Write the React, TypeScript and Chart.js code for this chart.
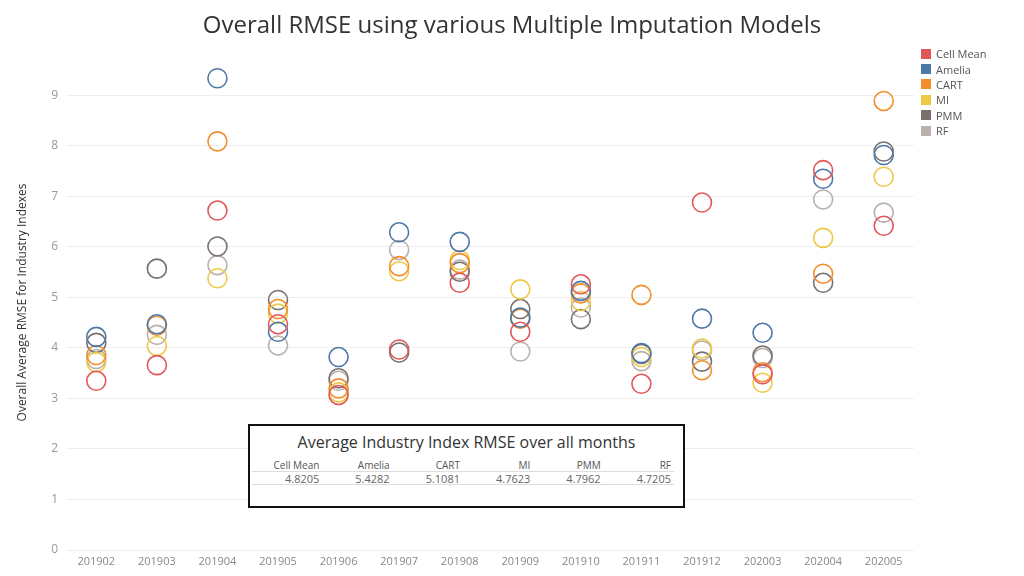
import React, { useEffect, useRef } from "react";
import { Chart, registerables } from "chart.js";

Chart.register(...registerables);

const months = ["201902", "201903", "201904", "201905", "201906", "201907", "201908", "201909", "201910", "201911", "201912", "202003", "202004", "202005"];

const cellMean = [3.35, 3.66, 6.72, 4.47, 3.07, 3.97, 5.29, 4.32, 5.26, 3.29, 6.88, 3.48, 7.52, 6.42];
const amelia = [4.22, 4.47, 9.34, 4.32, 3.82, 6.29, 6.10, 4.60, 5.13, 3.90, 4.58, 4.30, 7.35, 7.82];
const cart = [3.86, 4.44, 8.09, 4.77, 3.20, 5.62, 5.68, 4.58, 5.08, 5.05, 3.56, 3.52, 5.47, 8.89];
const mi = [3.72, 4.04, 5.38, 4.68, 3.12, 5.52, 5.74, 5.16, 4.93, 3.82, 3.99, 3.31, 6.18, 7.39];
const pmm = [4.10, 5.57, 6.01, 4.95, 3.40, 3.91, 5.51, 4.77, 4.57, 3.88, 3.73, 3.85, 5.29, 7.89];
const rf = [3.78, 4.26, 5.64, 4.05, 3.35, 5.94, 5.55, 3.93, 4.80, 3.74, 3.95, 3.80, 6.94, 6.68];

const seriesNames = ["Cell Mean", "Amelia", "CART", "MI", "PMM", "RF"];
const seriesColors = ["#e15759", "#4e79a7", "#f28e2b", "#edc948", "#79706e", "#bab0ac"];
const seriesData = [cellMean, amelia, cart, mi, pmm, rf];

const yTicks = [0, 1, 2, 3, 4, 5, 6, 7, 8, 9];

const chartTitle = "Overall RMSE using various Multiple Imputation Models";
const tableTitle = "Average Industry Index RMSE over all months";
const tableHeaders = ["Cell Mean", "Amelia", "CART", "MI", "PMM", "RF"];
const tableValues = ["4.8205", "5.4282", "5.1081", "4.7623", "4.7962", "4.7205"];

const FONT = "'Open Sans', 'Noto Sans', sans-serif";

export default function App() {
  const ref = useRef<HTMLCanvasElement | null>(null);

  useEffect(() => {
    if (!ref.current) return;
    const chart = new Chart(ref.current, {
      type: "line",
      data: {
        labels: months,
        datasets: seriesNames.map((name, i) => ({
          label: name,
          data: seriesData[i],
          showLine: false,
          borderColor: seriesColors[i],
          backgroundColor: "rgba(0,0,0,0)",
          pointBorderColor: seriesColors[i],
          pointBackgroundColor: "rgba(0,0,0,0)",
          pointRadius: 9.5,
          pointBorderWidth: 1.6,
          pointStyle: "circle",
        })),
      },
      options: {
        responsive: false,
        animation: false,
        layout: { padding: { left: 0, right: 110, top: 55, bottom: 0 } },
        plugins: {
          legend: { display: false },
          tooltip: { enabled: false },
          title: { display: false },
        },
        scales: {
          x: {
            type: "category",
            offset: true,
            grid: { display: false, drawTicks: false },
            border: { display: false },
            ticks: { color: "#888888", font: { family: FONT, size: 11 }, padding: 5, maxRotation: 0, autoSkip: false },
            afterFit: (s: any) => { s.height = 26; },
          },
          y: {
            type: "linear",
            min: 0,
            max: 9.8,
            grid: { color: "#eeeeee", lineWidth: 1, drawTicks: false },
            border: { display: false },
            ticks: { color: "#999999", font: { family: FONT, size: 12 }, padding: 8 },
            afterBuildTicks: (s: any) => { s.ticks = yTicks.map((v) => ({ value: v })); },
            afterFit: (s: any) => { s.width = 66; },
            title: {
              display: true,
              text: "Overall Average RMSE for Industry Indexes",
              color: "#333333",
              font: { family: FONT, size: 12 },
              padding: { top: 15, bottom: 0 },
            },
          },
        },
      },
    });
    return () => chart.destroy();
  }, []);

  return (
    <div style={{ position: "fixed", left: 0, top: 0, width: 1024, height: 576, background: "#ffffff", fontFamily: FONT }}>
      <canvas ref={ref} width={1024} height={576} style={{ position: "absolute", left: 0, top: 0 }} />
      <div style={{ position: "absolute", left: 0, top: 8, width: 1024, textAlign: "center", fontSize: 24, fontWeight: 500, color: "#333333", lineHeight: "32px" }}>{chartTitle}</div>
      <div style={{ position: "absolute", left: 921, top: 46 }}>
        {seriesNames.map((n, i) => (
          <div key={n} style={{ display: "flex", alignItems: "center", height: 15.4, fontSize: 11, color: "#555555" }}>
            <span style={{ display: "inline-block", width: 10, height: 10, background: seriesColors[i], marginRight: 5 }} />
            <span>{n}</span>
          </div>
        ))}
      </div>
      <div style={{ position: "absolute", left: 248, top: 424, width: 433, height: 80, border: "2px solid #111111", background: "#ffffff" }}>
        <div style={{ position: "absolute", left: 0, top: 5, width: 433, textAlign: "center", fontSize: 16, color: "#333333", lineHeight: "22px" }}>{tableTitle}</div>
        <div style={{ position: "absolute", left: 2, top: 45, width: 422, height: 1, background: "#dddddd" }} />
        <div style={{ position: "absolute", left: 2, top: 58, width: 422, height: 1, background: "#dddddd" }} />
        <div style={{ position: "absolute", left: -1, top: 33, width: 422, display: "flex" }}>
          {tableHeaders.map((h) => (
            <div key={h} style={{ width: 70.33, textAlign: "right", fontSize: 10, color: "#555555", lineHeight: "12px" }}>{h}</div>
          ))}
        </div>
        <div style={{ position: "absolute", left: -1, top: 46, width: 422, display: "flex" }}>
          {tableValues.map((v, i) => (
            <div key={i} style={{ width: 70.33, textAlign: "right", fontSize: 11, color: "#666666", lineHeight: "13px" }}>{v}</div>
          ))}
        </div>
      </div>
    </div>
  );
}
